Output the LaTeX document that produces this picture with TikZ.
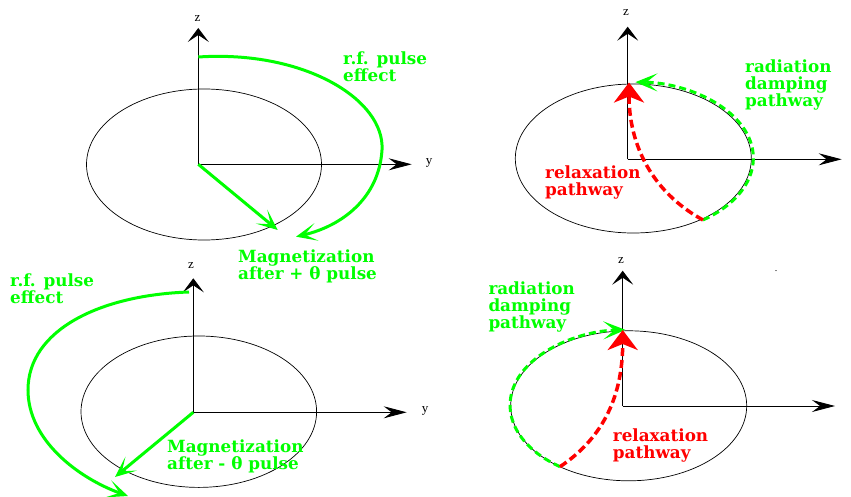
\documentclass[tikz,border=0pt]{standalone}
\usepackage{fontspec}
\newfontfamily\lblfont{DejaVu Serif}
\newfontfamily\axfont{Liberation Serif}
\usetikzlibrary{arrows.meta}
\definecolor{grn}{RGB}{0,255,0}
\definecolor{rd}{RGB}{255,0,0}
\tikzset{
  zaxis/.style={line width=0.9pt, -{Stealth[length=14pt,width=21pt,inset=7pt]}},
  yaxis/.style={line width=0.9pt, -{Stealth[length=23pt,width=12pt,inset=8pt]}},
  ell/.style={line width=0.7pt},
  garrow/.style={grn, line width=3pt, -{Stealth[length=21pt,width=18pt,inset=12pt]}},
  gdash/.style={grn, line width=3pt, dash pattern=on 7pt off 4pt, -{Stealth[length=22pt,width=18pt,inset=11pt]}},
  rdash/.style={rd, line width=3.5pt, dash pattern=on 8pt off 4pt, -{Stealth[length=20pt,width=30pt,inset=6pt]}},
  glabel/.style={grn, font=\lblfont\bfseries\fontsize{16.8}{16.8}\selectfont, anchor=north west, inner sep=0pt, align=left},
  rlabel/.style={glabel, rd},
  axlabel/.style={font=\axfont\fontsize{13}{13}\selectfont, inner sep=0pt},
  dotlabel/.style={font=\axfont\fontsize{10}{10}\selectfont, inner sep=0pt}
}
\begin{document}
\begin{tikzpicture}[x=1pt,y=-1pt]
\useasboundingbox (0,0) rectangle (851,497);
% ---------- panel 1 ----------
\coordinate (o1) at (198.3,164.3);
\coordinate (z1) at (198.3,28);
\coordinate (y1) at (411.7,164.3);
\coordinate (m1) at (277.7,230);
\coordinate (a1s) at (198.3,57);
\coordinate (a1e) at (296,236.7);
\draw[ell] (204,164.5) ellipse [x radius=117.5, y radius=75.5];
\draw[zaxis] (o1) -- (z1);
\draw[yaxis] (o1) -- (y1);
\node[axlabel] (zl1) at (197.5,19) {z};
\node[axlabel] (yl1) at (429,163) {y};
\draw[garrow] (a1s) .. controls (305,50) and (385,100) .. (382,150) .. controls (379,198) and (342,226) .. (a1e);
\draw[garrow] (o1) -- (m1);
\node[glabel] (t1a) at (343,51.5) {r.f. pulse\\effect};
\node[glabel] (t1b) at (238,250) {Magnetization\\after + θ pulse};
% ---------- panel 2 ----------
\coordinate (o2) at (627.7,159.3);
\coordinate (z2) at (627.7,26.7);
\coordinate (y2) at (841.7,159.3);
\coordinate (c2) at (633.3,158.5);
\coordinate (s2) at (703,220);
\coordinate (e2) at (629,82.5);
\draw[ell] (c2) ellipse [x radius=118, y radius=74.5];
\draw[zaxis] (o2) -- (z2);
\draw[yaxis] (o2) -- (y2);
\node[axlabel] (zl2) at (626,13) {z};
\draw[gdash] (s2) arc[start angle=54.5, end angle=-89, x radius=120, y radius=76];
\draw[rdash] (s2) .. controls (652,192) and (629,145) .. (e2);
\node[glabel] (t2a) at (745,60) {radiation\\damping\\pathway};
\node[rlabel] (t2b) at (545,165.7) {relaxation\\pathway};
% ---------- panel 3 ----------
\coordinate (o3) at (193.3,412.3);
\coordinate (z3) at (193.3,278.3);
\coordinate (y3) at (406.7,412.3);
\coordinate (m3) at (115,477);
\coordinate (a3s) at (189,292);
\coordinate (a3e) at (128,496);
\draw[ell] (198.8,411.7) ellipse [x radius=117.8, y radius=75.7];
\draw[zaxis] (o3) -- (z3);
\draw[yaxis] (o3) -- (y3);
\node[axlabel] (zl3) at (191,266) {z};
\node[axlabel] (yl3) at (425,411) {y};
\draw[garrow] (a3s) .. controls (100,295) and (28,330) .. (28,390) .. controls (28,440) and (78,478) .. (a3e);
\draw[garrow] (o3) -- (m3);
\node[glabel] (t3a) at (10,273.3) {r.f. pulse\\effect};
\node[glabel] (t3b) at (167,439.3) {Magnetization\\after - θ pulse};
% ---------- panel 4 ----------
\coordinate (o4) at (622.7,406);
\coordinate (z4) at (622.7,270.7);
\coordinate (y4) at (835,406);
\coordinate (c4) at (628.7,405.8);
\coordinate (s4) at (560,466.7);
\coordinate (e4) at (622.7,330);
\draw[ell] (c4) ellipse [x radius=118, y radius=75];
\draw[zaxis] (o4) -- (z4);
\draw[yaxis] (o4) -- (y4);
\node[axlabel] (zl4) at (621,260.7) {z};
\node[dotlabel] (dot4) at (776,271) {.};
\draw[gdash] (s4) arc[start angle=125.6, end angle=268, x radius=119.5, y radius=75.5];
\draw[rdash] (s4) .. controls (600,440) and (622.7,400) .. (e4);
\node[glabel] (t4a) at (488.3,281.7) {radiation\\damping\\pathway};
\node[rlabel] (t4b) at (612.7,428.3) {relaxation\\pathway};
\end{tikzpicture}
\end{document}
